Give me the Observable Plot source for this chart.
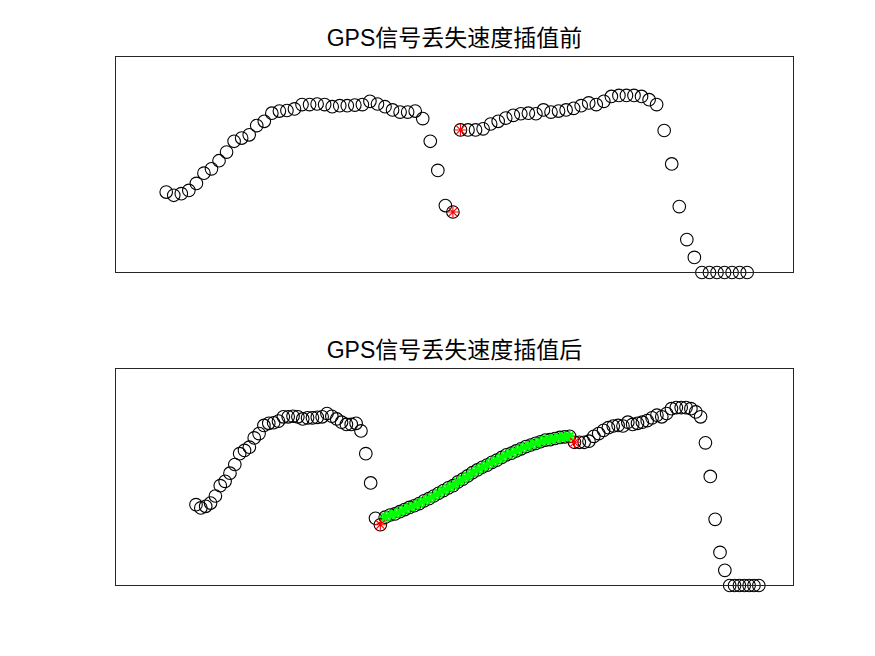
<!DOCTYPE html>
<html>
<head>
<meta charset="utf-8">
<script src="https://cdn.jsdelivr.net/npm/d3@7"></script>
<script src="https://cdn.jsdelivr.net/npm/@observablehq/plot@0.6"></script>
<style>
  html, body { margin: 0; padding: 0; background: #fff; }
  #wrap { width: 875px; height: 656px; position: relative; }
  #wrap svg { display: block; }
</style>
</head>
<body>
<div id="wrap"></div>
<script>
// ---- data ----
const titles = ["GPS信号丢失速度插值前", "GPS信号丢失速度插值后"];

// measured speed samples (before interpolation); samples 39 and 40 bound the GPS outage
const speedBefore = [
  14.9, 14.3, 14.6, 15.2, 16.5, 18.4, 19.2, 20.7, 22.3, 24.3,
  24.9, 25.5, 27.2, 28.0, 29.5, 29.9, 30.0, 30.3, 31.1, 31.1,
  31.2, 31.1, 30.7, 30.9, 30.9, 31.0, 31.1, 31.7, 31.2, 30.7,
  30.1, 29.7, 29.7, 29.9, 28.5, 24.3, 18.9, 12.4, 11.2,
  26.4, 26.4, 26.4, 26.6, 27.5, 28.0, 28.6, 29.1, 29.4, 29.5,
  29.4, 30.1, 29.7, 29.9, 30.1, 30.4, 30.9, 31.4, 31.1, 31.7,
  32.6, 32.8, 32.8, 32.8, 32.6, 32.0, 31.1, 26.3, 20.1, 12.2,
  6.1, 2.8, 0, 0, 0, 0, 0, 0, 0
];
const gapStart = 39;   // last sample before outage (1-based)
const gapEnd = 40;     // first sample after outage (1-based)

// interpolated speed values filling the outage
const speedInterp = [
  12.6, 13.0, 13.2, 13.6, 14.0, 14.4, 14.7, 15.1, 15.6, 16.0,
  16.5, 17.0, 17.5, 18.0, 18.4, 19.1, 19.6, 20.2, 20.8, 21.3,
  21.8, 22.2, 22.7, 23.1, 23.6, 24.1, 24.4, 24.8, 25.2, 25.6,
  25.9, 26.2, 26.5, 26.8, 26.9, 27.1, 27.3, 27.4, 27.5
];

// ---- derived tables ----
const before = speedBefore.map((v, i) => ({t: i + 1, v}));
const nI = speedInterp.length;
const afterOrig = speedBefore.map((v, i) => ({t: i < gapStart ? i + 1 : i + 1 + nI, v}));
const interp = speedInterp.map((v, i) => ({t: gapStart + 1 + i, v}));
const after = afterOrig.concat(interp).sort((a, b) => a.t - b.t);
const starsBefore = [before[gapStart - 1], before[gapEnd - 1]];
const starsAfter = [afterOrig[gapStart - 1], afterOrig[gapEnd - 1]];

// MATLAB-like '*' marker (8 arms)
const star8 = {
  draw(ctx, size) {
    const r = Math.sqrt(size / Math.PI);
    const d = r * Math.SQRT1_2;
    ctx.moveTo(-r, 0); ctx.lineTo(r, 0);
    ctx.moveTo(0, -r); ctx.lineTo(0, r);
    ctx.moveTo(-d, -d); ctx.lineTo(d, d);
    ctx.moveTo(-d, d); ctx.lineTo(d, -d);
  }
};

const fontFam = "'Liberation Sans', Arial, 'Noto Sans CJK SC', sans-serif";

function panel({title, xDomain, height, marginTop, marginBottom, marks}) {
  return Plot.plot({
    width: 875,
    height,
    marginLeft: 115,
    marginRight: 82,
    marginTop,
    marginBottom,
    style: {background: "#fff", fontFamily: fontFam, overflow: "visible"},
    x: {domain: xDomain, axis: null},
    y: {domain: [0, 40], axis: null},
    marks: [
      ...marks,
      Plot.frame({stroke: "#262626", strokeWidth: 1}),
      Plot.text([title], {
        frameAnchor: "top", lineAnchor: "middle", dy: -18, text: d => d,
        fontSize: 23, fill: "#000", fontFamily: fontFam
      })
    ]
  });
}

const panelTop = panel({
  title: titles[0],
  xDomain: [-5.72, 84.14],
  height: 312, marginTop: 56, marginBottom: 40,
  marks: [
    Plot.dot(before, {x: "t", y: "v", r: 6.3, stroke: "#000", strokeWidth: 1.1, fill: "none"}),
    Plot.dot(starsBefore, {x: "t", y: "v", r: 6, symbol: star8, stroke: "#ff0000", strokeWidth: 1.1, fill: "none"})
  ]
});

const panelBottom = panel({
  title: titles[1],
  xDomain: [-15.59, 124.15],
  height: 344, marginTop: 56, marginBottom: 71,
  marks: [
    Plot.dot(after, {x: "t", y: "v", r: 6.3, stroke: "#000", strokeWidth: 1.1, fill: "none"}),
    Plot.dot(interp, {x: "t", y: "v", r: 5.5, symbol: star8, stroke: "#00ff00", strokeWidth: 2, fill: "none"}),
    Plot.dot(starsAfter, {x: "t", y: "v", r: 6, symbol: star8, stroke: "#ff0000", strokeWidth: 1.1, fill: "none"})
  ]
});

const wrap = document.getElementById("wrap");
wrap.appendChild(panelTop);
wrap.appendChild(panelBottom);
</script>
</body>
</html>
